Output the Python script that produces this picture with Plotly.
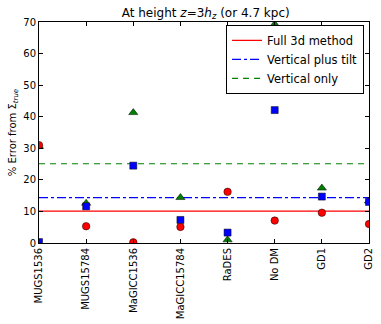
import plotly.graph_objects as go

categories = ["MUGS1536", "MUGS15784", "MaGICC1536", "MaGICC15784", "RaDES", "No DM", "GD1", "GD2"]
full3d = [31.0, 5.3, 0.2, 5.1, 16.2, 7.1, 9.6, 6.0]
vert_tilt = [0.3, 11.6, 24.5, 7.3, 3.3, 42.1, 14.7, 13.0]
vert_only = [30.6, 12.6, 41.3, 14.4, 1.0, 69.3, 17.4, 13.3]
mean_full3d = 10.1
mean_vert_tilt = 14.4
mean_vert_only = 25.1
y_ticks = [0, 10, 20, 30, 40, 50, 60, 70]

RED = "#ff0000"
BLUE = "#0000ff"
GREEN = "#008000"
FONT = "DejaVu Sans"

fig = go.Figure()

# horizontal mean lines
fig.add_trace(go.Scatter(x=[categories[0], categories[-1]], y=[mean_full3d] * 2, mode="lines",
                         line=dict(color=RED, width=1.2), name="Full 3d method"))
fig.add_trace(go.Scatter(x=[categories[0], categories[-1]], y=[mean_vert_tilt] * 2, mode="lines",
                         line=dict(color=BLUE, width=1.2, dash="dashdot"), name="Vertical plus tilt"))
fig.add_trace(go.Scatter(x=[categories[0], categories[-1]], y=[mean_vert_only] * 2, mode="lines",
                         line=dict(color=GREEN, width=1.2, dash="6px,5px"), name="Vertical only"))

# markers
fig.add_trace(go.Scatter(x=categories, y=vert_only, mode="markers", showlegend=False,
                         marker=dict(symbol="triangle-up", color=GREEN, size=8,
                                     line=dict(color="black", width=0.5))))
fig.add_trace(go.Scatter(x=categories, y=vert_tilt, mode="markers", showlegend=False,
                         marker=dict(symbol="square", color=BLUE, size=7,
                                     line=dict(color="black", width=0.5))))
fig.add_trace(go.Scatter(x=categories, y=full3d, mode="markers", showlegend=False,
                         marker=dict(symbol="circle", color=RED, size=7.5,
                                     line=dict(color="black", width=0.5))))

fig.update_layout(
    width=381, height=324,
    margin=dict(l=39, r=12, t=22, b=81),
    paper_bgcolor="white", plot_bgcolor="white",
    font=dict(family=FONT, size=10, color="black"),
    title=dict(text="At height <i>z</i>=3<i>h<sub>z</sub></i> (or 4.7 kpc)",
               x=0.54, xanchor="center", y=0.962, yanchor="middle",
               font=dict(family=FONT, size=12, color="black")),
    legend=dict(x=0.985, xanchor="right", y=0.987, yanchor="top",
                bgcolor="white", bordercolor="black", borderwidth=1,
                font=dict(family=FONT, size=11.5), tracegroupgap=0,
                itemwidth=30),
    xaxis=dict(type="category", categoryorder="array", categoryarray=categories,
               range=[0, 7], tickangle=-90, ticks="inside", ticklen=4, tickcolor="black",
               automargin=False,
               showline=True, linecolor="black", linewidth=1, mirror="ticks",
               showgrid=False, zeroline=False, tickfont=dict(size=10)),
    yaxis=dict(range=[0, 70], tickvals=y_ticks, ticks="inside", ticklen=4, tickcolor="black",
               automargin=False,
               showline=True, linecolor="black", linewidth=1, mirror="ticks",
               showgrid=False, zeroline=False, tickfont=dict(size=10),
               title=dict(text="% Error from Σ<sub><i>true</i></sub>", standoff=4,
                          font=dict(size=10))),
)

fig.write_html("out.html", config={"displayModeBar": False},
               post_script="document.body.style.margin='0';document.body.style.overflow='hidden';")
